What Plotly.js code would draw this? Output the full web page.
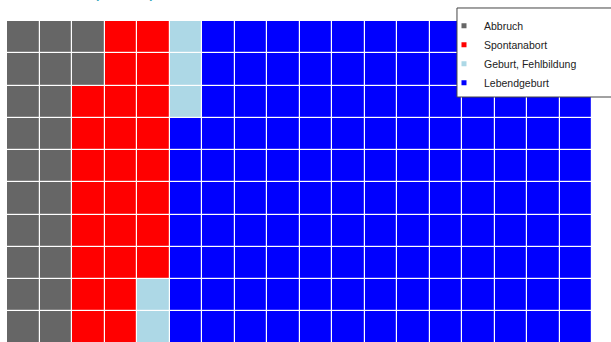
<!DOCTYPE html>
<html>
<head>
<meta charset="utf-8">
<script src="https://cdn.plot.ly/plotly-3.0.1.min.js"></script>
<style>html,body{margin:0;padding:0;background:#fff;}#chart{width:611px;height:342px;}</style>
</head>
<body>
<div id="chart"></div>
<script>
const categories = ["Abbruch", "Spontanabort", "Geburt, Fehlbildung", "Lebendgeburt"];
const counts = [22, 26, 5, 127];
const colors = ["#666666", "#ff0000", "#add8e6", "#0000ff"];
const titleText = "(n=180)";
const nRows = 10;
const nCols = 18;

// build waffle grid: fill column by column, top to bottom
const cellCat = [];
counts.forEach((c, i) => { for (let k = 0; k < c; k++) cellCat.push(i); });
const xs = Array.from({length: nCols}, (_, i) => i);
const ys = Array.from({length: nRows}, (_, i) => i);

const traces = [];
categories.forEach((name, ci) => {
  const z = ys.map(r => xs.map(c => {
    const k = c * nRows + r;
    return cellCat[k] === ci ? 1 : null;
  }));
  traces.push({
    type: 'heatmap', x: xs, y: ys, z: z,
    colorscale: [[0, colors[ci]], [1, colors[ci]]],
    zmin: 0, zmax: 1, showscale: false, xgap: 1.2, ygap: 1.2,
    hoverinfo: 'skip', showlegend: false
  });
});
categories.forEach((name, ci) => {
  traces.push({
    type: 'scatter', mode: 'markers', x: [null], y: [null], name: name,
    marker: {symbol: 'square', size: 5, color: colors[ci]}
  });
});

const layout = {
  width: 611, height: 342,
  margin: {l: 7, r: 19, t: 21, b: 0, pad: 0},
  paper_bgcolor: '#ffffff', plot_bgcolor: '#ffffff',
  xaxis: {range: [-0.5, nCols - 0.5], visible: false, fixedrange: true},
  yaxis: {range: [nRows - 0.55, -0.5], visible: false, fixedrange: true},
  showlegend: true,
  legend: {
    x: 0.747, xanchor: 'left', y: 1.03, yanchor: 'top',
    bgcolor: 'rgba(0,0,0,0)', borderwidth: 0,
    font: {family: 'Liberation Sans, Arial, sans-serif', size: 10.5, color: '#222222'}
  },
  shapes: [{
    type: 'rect', xref: 'paper', yref: 'paper', layer: 'above',
    x0: 0.7692, x1: 1.2, y0: 0.7632, y1: 1.0405,
    fillcolor: '#ffffff', line: {color: '#444444', width: 1}
  }],
  annotations: [{
    text: titleText, xref: 'paper', yref: 'paper', x: 0.2017, y: 1,
    xanchor: 'center', yanchor: 'bottom', yshift: 18.5, showarrow: false,
    font: {family: 'Liberation Sans, Arial, sans-serif', size: 18, color: '#2a9fb8'}
  }]
};

Plotly.newPlot('chart', traces, layout, {displayModeBar: false, staticPlot: true});
</script>
</body>
</html>
